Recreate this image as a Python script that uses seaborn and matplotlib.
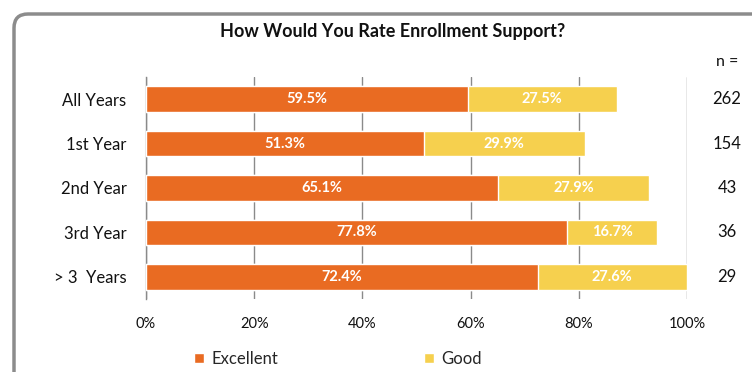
import matplotlib
matplotlib.use("Agg")
import matplotlib.pyplot as plt
import seaborn as sns
import pandas as pd
from matplotlib.patches import FancyBboxPatch, Patch

categories = ["All Years", "1st Year", "2nd Year", "3rd Year", "> 3  Years"]
excellent = [59.5, 51.3, 65.1, 77.8, 72.4]
good = [27.5, 29.9, 27.9, 16.7, 27.6]
n_values = ["262", "154", "43", "36", "29"]
x_ticks = [0, 20, 40, 60, 80, 100]
x_ticklabels = ["0%", "20%", "40%", "60%", "80%", "100%"]
title = "How Would You Rate Enrollment Support?"

ORANGE = "#E96B22"
YELLOW = "#F6D04E"

sns.set_theme(style="white")
plt.rcParams["font.family"] = ["Lato", "DejaVu Sans"]

df = pd.DataFrame({"cat": categories, "Excellent": excellent, "Good": good})
df["Total"] = df["Excellent"] + df["Good"]

fig = plt.figure(figsize=(7.52, 3.72), dpi=100)
ax = fig.add_axes([146 / 752, 1 - 299 / 372, 541 / 752, 222 / 372])

sns.barplot(data=df, y="cat", x="Total", color=YELLOW, orient="h", width=0.58,
            ax=ax, saturation=1, zorder=3)
sns.barplot(data=df, y="cat", x="Excellent", color=ORANGE, orient="h", width=0.58,
            ax=ax, saturation=1, zorder=4)

for i, (e, g) in enumerate(zip(excellent, good)):
    ax.text(e / 2, i, f"{e:.1f}%", ha="center", va="center", color="white",
            fontsize=10.5, fontweight="bold", zorder=5)
    ax.text(e + g / 2, i, f"{g:.1f}%", ha="center", va="center", color="white",
            fontsize=10.5, fontweight="bold", zorder=5)
    ax.text(1.0 + 40 / 541, i, n_values[i], transform=ax.get_yaxis_transform(),
            ha="center", va="center", fontsize=12, color="#111111")

ax.text(1.0 + 40 / 541, 1.0 + 15 / 222, "n =", transform=ax.transAxes,
        ha="center", va="center", fontsize=11.5, color="#111111")

ax.set_xlim(0, 100)
ax.set_xticks(x_ticks)
ax.set_xticklabels(x_ticklabels, fontsize=10.5)
ax.set_xlabel("")
ax.set_ylabel("")
ax.tick_params(axis="y", labelsize=12, length=0, pad=14)
ax.tick_params(axis="x", length=0, pad=13)
for lbl in ax.get_yticklabels():
    lbl.set_color("#111111")
for lbl in ax.get_xticklabels():
    lbl.set_color("#111111")

ax.grid(axis="x", color="#8a8a8a", linewidth=1, zorder=0)
ax.set_axisbelow(True)
for s in ["top", "right", "bottom"]:
    ax.spines[s].set_visible(False)
ax.spines["left"].set_color("#8a8a8a")
ax.spines["left"].set_linewidth(1)

fig.text(0.5 + 17 / 752, 1 - 31 / 372, title, ha="center", va="center",
         fontsize=13, fontweight="bold", color="#111111")

# Rounded outer frame
frame = FancyBboxPatch((0.14, -0.6), 8.0, 4.18,
                       boxstyle="round,pad=0,rounding_size=0.14",
                       transform=fig.dpi_scale_trans, fill=False,
                       edgecolor="#8c8c8c", linewidth=2.5, zorder=0)
fig.patches.append(frame)

handles = [Patch(facecolor=ORANGE, label="Excellent"),
           Patch(facecolor=YELLOW, label="Good")]
fig.legend(handles=handles, loc="center", bbox_to_anchor=(338 / 752, 1 - 359 / 372),
           ncol=2, frameon=False, fontsize=12, handlelength=0.6, handleheight=0.6,
           handletextpad=0.4, columnspacing=8.8)

fig.savefig("out.png", dpi=100)
